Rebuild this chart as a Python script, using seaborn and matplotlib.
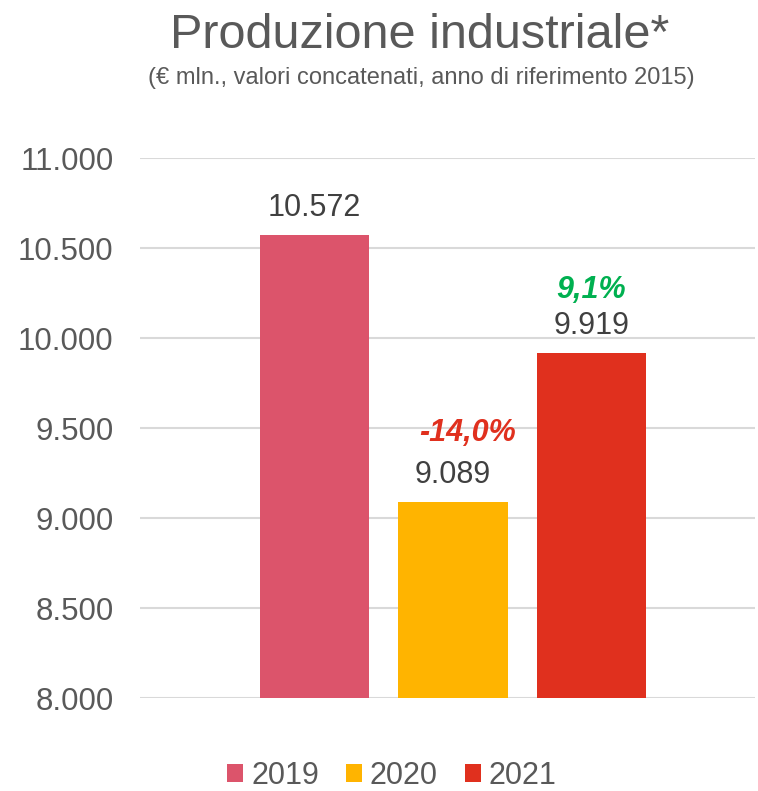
import matplotlib
matplotlib.use("Agg")
import matplotlib.pyplot as plt
import matplotlib.patches as mpatches
import seaborn as sns
import pandas as pd

years = ["2019", "2020", "2021"]
values = [10572, 9089, 9919]
changes = [None, -14.0, 9.1]
colors = ["#DC546B", "#FFB400", "#E0301E"]
change_colors = [None, "#E0301E", "#00B050"]
yticks = [8000, 8500, 9000, 9500, 10000, 10500, 11000]

title = "Produzione industriale*"
subtitle = "(€ mln., valori concatenati, anno di riferimento 2015)"

sns.set_theme(style="white")
plt.rcParams["font.family"] = ["Liberation Sans", "DejaVu Sans"]

W, H = 758, 791
fig = plt.figure(figsize=(W / 100, H / 100), dpi=100)
ax = fig.add_axes([140 / W, (H - 698) / H, (755 - 140) / W, (698 - 158) / H])

df = pd.DataFrame({"year": years, "value": values})
sns.barplot(data=df, x="year", y="value", hue="year", palette=colors,
            width=0.79, legend=False, ax=ax, saturation=1,
            linewidth=0, edgecolor="none")

ax.set_ylim(8000, 11000)
ax.set_xlim(-1.26, 3.18)
ax.set_yticks(yticks)
ax.set_yticklabels([f"{v:,}".replace(",", ".") for v in yticks],
                   fontsize=22.5, color="#595959")
ax.tick_params(axis="y", length=0, pad=19)
ax.set_xticks([])
ax.set_xlabel("")
ax.set_ylabel("")
for s in ax.spines.values():
    s.set_visible(False)
ax.yaxis.grid(True, color="#D9D9D9", linewidth=1.5)
ax.set_axisbelow(True)

for i, v in enumerate(values):
    ax.annotate(f"{v:,}".replace(",", "."), xy=(i, v), xytext=(0, 27),
                textcoords="offset pixels", ha="center", va="center",
                fontsize=22, color="#404040", annotation_clip=False)

pct_offsets = {1: (15, 69), 2: (0, 63)}
for i, c in enumerate(changes):
    if c is None:
        continue
    txt = f"{c:.1f}%".replace(".", ",")
    dx, dy = pct_offsets[i]
    ax.annotate(txt, xy=(i, values[i]), xytext=(dx, dy),
                textcoords="offset pixels", ha="center", va="center",
                fontsize=22, color=change_colors[i], fontweight="bold",
                fontstyle="italic", annotation_clip=False)

fig.text(420 / W, 1 - 36 / H, title, ha="center", va="center",
         fontsize=35, color="#595959")
fig.text(421 / W, 1 - 78 / H, subtitle, ha="center", va="center",
         fontsize=17, color="#595959")

handles = [mpatches.Patch(facecolor=c, edgecolor="none", label=y)
           for y, c in zip(years, colors)]
fig.legend(handles=handles, loc="center", bbox_to_anchor=(392 / W, 1 - 776 / H),
           ncol=3, frameon=False, fontsize=22, handlelength=0.52,
           handleheight=0.52, handletextpad=0.26, columnspacing=0.88,
           labelcolor="#595959")

fig.savefig("out.png", dpi=100, facecolor="white")
